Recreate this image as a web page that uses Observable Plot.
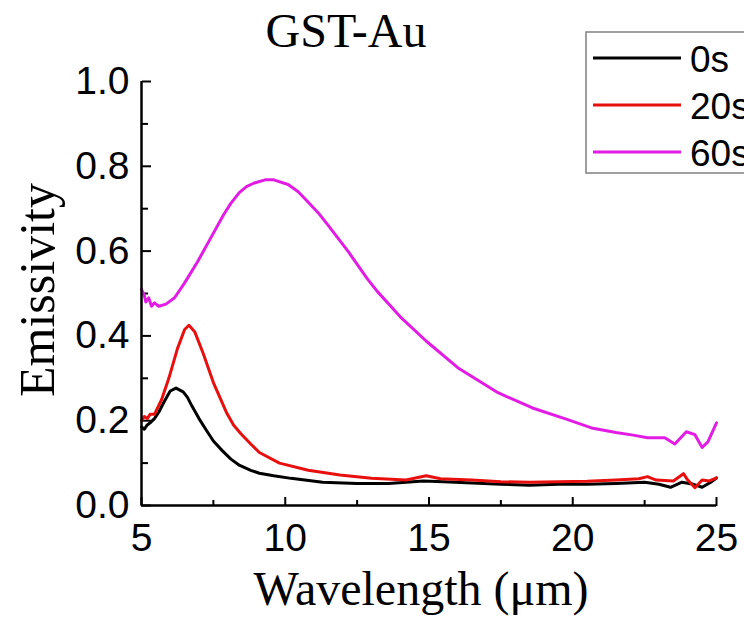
<!DOCTYPE html>
<html><head><meta charset="utf-8">
<script src="https://cdn.jsdelivr.net/npm/d3@7"></script>
<script src="https://cdn.jsdelivr.net/npm/@observablehq/plot@0.6"></script>
<style>body{margin:0;background:#fff}</style>
</head><body><div id="chart"></div>
<script>
const seriesNames = ["0s", "20s", "60s"];
const seriesColors = ["#000000", "#e8100f", "#e21ce4"];

const wl0s = [5.0,5.1,5.2,5.3,5.45,5.6,5.75,5.9,6.0,6.2,6.45,6.6,6.75,7.0,7.25,7.5,7.8,8.1,8.4,8.8,9.1,9.6,10.2,11.3,12.5,13.6,14.8,15.5,16.5,17.5,18.5,19.5,20.5,21.5,22.5,23.0,23.4,23.8,24.2,24.5,24.8,25.0];
const em0s = [0.185,0.18,0.19,0.195,0.205,0.22,0.24,0.258,0.27,0.277,0.268,0.255,0.235,0.205,0.178,0.152,0.13,0.11,0.095,0.083,0.076,0.07,0.064,0.055,0.052,0.052,0.058,0.056,0.053,0.05,0.048,0.05,0.05,0.052,0.055,0.05,0.043,0.055,0.05,0.043,0.055,0.065];

const wl20s = [5.0,5.1,5.2,5.3,5.45,5.7,5.95,6.25,6.5,6.65,6.85,7.15,7.5,7.95,8.2,8.45,8.8,9.1,9.8,10.8,11.9,13.0,14.2,14.9,15.4,16.5,17.5,18.5,19.5,20.5,21.5,22.3,22.6,22.9,23.5,23.85,24.0,24.25,24.5,24.75,25.0];
const em20s = [0.2,0.21,0.205,0.215,0.215,0.25,0.3,0.37,0.415,0.425,0.41,0.358,0.29,0.22,0.19,0.17,0.145,0.125,0.1,0.083,0.072,0.064,0.06,0.07,0.063,0.06,0.056,0.055,0.056,0.057,0.06,0.063,0.068,0.06,0.058,0.075,0.06,0.042,0.06,0.058,0.065];

const wl60s = [5.0,5.1,5.15,5.25,5.35,5.45,5.6,5.85,6.15,6.5,6.95,7.4,7.85,8.1,8.4,8.65,8.9,9.3,9.6,10.1,10.45,10.8,11.15,11.5,12.2,12.85,13.2,13.6,14.0,14.9,16.0,17.4,18.6,19.8,20.7,21.5,22.1,22.6,23.2,23.55,23.95,24.25,24.5,24.7,25.0];
const em60s = [0.51,0.495,0.48,0.49,0.47,0.478,0.47,0.475,0.49,0.525,0.575,0.63,0.685,0.712,0.738,0.752,0.76,0.768,0.768,0.757,0.74,0.715,0.69,0.66,0.598,0.535,0.505,0.475,0.445,0.388,0.325,0.266,0.23,0.203,0.182,0.172,0.166,0.16,0.16,0.145,0.174,0.167,0.137,0.15,0.195];

const xMajor = [5, 10, 15, 20, 25];
const xMinor = [7.5, 12.5, 17.5, 22.5];
const yMajor = [0, 0.2, 0.4, 0.6, 0.8, 1.0];
const yMinor = [0.1, 0.3, 0.5, 0.7, 0.9];

const titleText = "GST-Au";
const xLabel = "Wavelength (μm)";
const yLabel = "Emissivity";

const wls = [wl0s, wl20s, wl60s];
const ems = [em0s, em20s, em60s];
const rows = [];
seriesNames.forEach((name, i) => wls[i].forEach((x, j) => rows.push({series: name, x, y: ems[i][j]})));

const sans = "'Liberation Sans', Arial, sans-serif";
const serif = "'Liberation Serif', 'Times New Roman', serif";

const plot = Plot.plot({
  width: 744, height: 620,
  marginLeft: 141, marginRight: 28, marginTop: 81, marginBottom: 115,
  x: {domain: [5, 25]},
  y: {domain: [0, 1]},
  color: {domain: seriesNames, range: seriesColors},
  style: {fontFamily: sans, color: "#000", background: "#fff", overflow: "visible"},
  marks: [
    Plot.axisX({ticks: xMajor, tickSize: 0, tickPadding: 18, label: null, fontSize: 39, tickFormat: d => String(d)}),
    Plot.axisX({anchor: "top", frameAnchor: "bottom", ticks: xMajor, tickSize: 9, text: null, label: null, strokeWidth: 2}),
    Plot.axisX({anchor: "top", frameAnchor: "bottom", ticks: xMinor, tickSize: 6, text: null, label: null, strokeWidth: 2}),
    Plot.axisY({ticks: yMajor, tickSize: 0, tickPadding: 12, label: null, fontSize: 39, tickFormat: d => d.toFixed(1)}),
    Plot.axisY({anchor: "right", frameAnchor: "left", ticks: yMajor, tickSize: 9, text: null, label: null, strokeWidth: 2}),
    Plot.axisY({anchor: "right", frameAnchor: "left", ticks: yMinor, tickSize: 6, text: null, label: null, strokeWidth: 2}),
    Plot.line(rows, {x: "x", y: "y", z: "series", stroke: "series", strokeWidth: 3, curve: "linear"}),
    Plot.ruleX([5], {strokeWidth: 2.5}),
    Plot.ruleY([0], {strokeWidth: 2.5})
  ]
});

const svg = d3.select(plot);
svg.append("text").attr("x", 346).attr("y", 47).attr("text-anchor", "middle")
  .style("font-family", serif).style("font-size", "48px").attr("fill", "#000").text(titleText);
svg.append("text").attr("x", 421).attr("y", 605).attr("text-anchor", "middle")
  .style("font-family", serif).style("font-size", "48px").attr("fill", "#000").text(xLabel);
svg.append("text").attr("transform", "translate(54,290) rotate(-90)").attr("text-anchor", "middle")
  .style("font-family", serif).style("font-size", "50px").attr("fill", "#000").text(yLabel);

const lg = svg.append("g");
lg.append("rect").attr("x", 586).attr("y", 32).attr("width", 220).attr("height", 141)
  .attr("fill", "#fff").attr("stroke", "#808080").attr("stroke-width", 1.5);
seriesNames.forEach((n, i) => {
  const yy = 58 + i * 47;
  lg.append("line").attr("x1", 593).attr("x2", 681).attr("y1", yy).attr("y2", yy)
    .attr("stroke", seriesColors[i]).attr("stroke-width", 3);
  lg.append("text").attr("x", 690).attr("y", yy).attr("dy", "0.38em").attr("text-anchor", "start")
    .style("font-family", sans).style("font-size", "37px").attr("fill", "#000").text(n);
});

document.getElementById("chart").appendChild(plot);
</script>
</body></html>
